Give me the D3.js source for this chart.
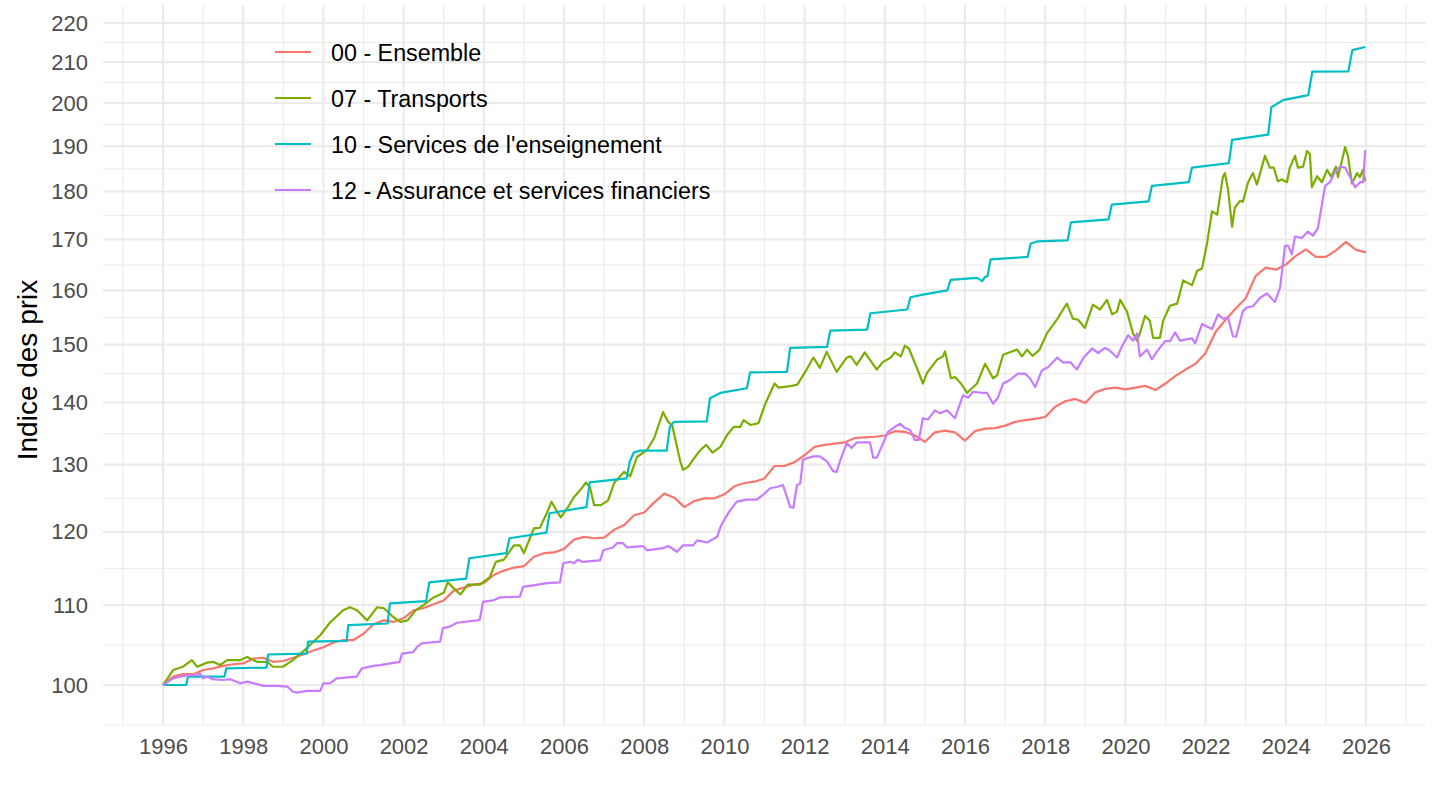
<!DOCTYPE html>
<html>
<head>
<meta charset="utf-8">
<script src="https://cdn.jsdelivr.net/npm/d3@7/dist/d3.min.js"></script>
<style>
  body { margin: 0; background: #fff; }
  text { font-family: "Liberation Sans", Arial, sans-serif; }
</style>
</head>
<body>
<script>
// Données : [année décimale, indice]
const yearTicks = [1996, 1998, 2000, 2002, 2004, 2006, 2008, 2010, 2012, 2014, 2016, 2018, 2020, 2022, 2024, 2026];
const indexTicks = [100, 110, 120, 130, 140, 150, 160, 170, 180, 190, 200, 210, 220];

const seriesNames = ["00 - Ensemble", "07 - Transports", "10 - Services de l'enseignement", "12 - Assurance et services financiers"];
const seriesColors = ["#F8766D", "#7CAE00", "#00BFC4", "#C77CFF"];

const ensemble = [[1996.0,100],[1996.25,101.0],[1996.5,101.3],[1996.75,101.3],[1997.0,101.8],[1997.25,102.0],[1997.5,102.3],[1997.75,102.5],
  [1998.0,102.6],[1998.25,103.2],[1998.5,103.3],[1998.75,102.8],[1999.0,102.9],[1999.25,103.3],[1999.5,103.7],[1999.75,104.2],
  [2000.0,104.6],[2000.25,105.2],[2000.5,105.5],[2000.75,105.5],[2001.0,106.3],[2001.25,107.5],[2001.5,108.0],[2001.75,107.8],
  [2002.0,108.3],[2002.25,109.3],[2002.5,109.6],[2002.75,110.1],[2003.0,110.6],[2003.25,111.9],[2003.5,112.3],[2003.75,112.7],
  [2004.0,112.9],[2004.25,114.0],[2004.5,114.6],[2004.75,115.0],[2005.0,115.2],[2005.25,116.5],[2005.5,117.0],[2005.75,117.1],
  [2006.0,117.6],[2006.25,118.9],[2006.5,119.3],[2006.75,119.1],[2007.0,119.2],[2007.25,120.3],[2007.5,121.0],[2007.75,122.4],
  [2008.0,122.8],[2008.25,124.3],[2008.5,125.6],[2008.75,125.0],[2009.0,123.6],[2009.25,124.5],[2009.5,124.9],[2009.75,124.9],
  [2010.0,125.5],[2010.25,126.7],[2010.5,127.2],[2010.75,127.4],[2011.0,127.9],[2011.25,129.8],[2011.5,129.8],[2011.75,130.4],
  [2012.0,131.5],[2012.25,132.8],[2012.5,133.1],[2012.75,133.3],[2013.0,133.5],[2013.25,134.2],[2013.5,134.3],[2013.75,134.4],
  [2014.0,134.6],[2014.25,135.3],[2014.5,135.2],[2014.75,134.6],[2015.0,133.6],[2015.25,135.1],[2015.5,135.4],[2015.75,135.1],
  [2016.0,133.8],[2016.25,135.3],[2016.5,135.7],[2016.75,135.8],[2017.0,136.2],[2017.25,136.8],[2017.5,137.1],[2017.75,137.3],
  [2018.0,137.6],[2018.25,139.3],[2018.5,140.2],[2018.75,140.6],[2019.0,139.9],[2019.25,141.7],[2019.5,142.3],[2019.75,142.5],
  [2020.0,142.2],[2020.25,142.5],[2020.5,142.8],[2020.75,142.1],[2021.0,143.2],[2021.25,144.5],[2021.5,145.6],[2021.75,146.6],
  [2022.0,148.5],[2022.25,152.3],[2022.5,154.5],[2022.75,156.6],[2023.0,158.5],[2023.25,162.8],[2023.5,164.4],[2023.75,164.0],
  [2024.0,165.0],[2024.25,166.7],[2024.5,168.0],[2024.75,166.5],[2025.0,166.5],[2025.25,167.8],[2025.5,169.5],[2025.75,167.9],
  [2026.0,167.4]];

const transports = [[1996.0,100],[1996.25,101.8],[1996.5,102.2],[1996.72,103.0],[1996.85,102.2],[1997.1,102.7],[1997.25,102.8],
  [1997.42,102.4],[1997.6,103.0],[1997.92,103.0],[1998.1,103.4],[1998.34,102.8],[1998.6,102.8],[1998.74,102.2],[1998.99,102.2],
  [1999.24,103.0],[1999.59,104.5],[1999.92,106.1],[2000.16,107.7],[2000.49,109.3],[2000.66,109.7],[2000.84,109.3],[2001.09,108.0],
  [2001.34,109.7],[2001.5,109.6],[2001.75,108.4],[2001.92,107.8],[2002.1,108.0],[2002.3,109.3],[2002.5,110.0],[2002.75,111.0],
  [2003.0,111.6],[2003.1,113.0],[2003.35,111.7],[2003.42,111.4],[2003.6,112.7],[2003.9,112.7],[2004.15,113.7],[2004.3,115.8],
  [2004.5,116.1],[2004.75,118.1],[2004.9,118.1],[2005.0,117.0],[2005.15,119.1],[2005.25,120.5],[2005.4,120.6],[2005.6,123.1],
  [2005.69,124.4],[2005.85,122.7],[2005.92,122.1],[2006.1,123.6],[2006.25,125.1],[2006.4,126.1],[2006.55,127.3],[2006.65,126.5],
  [2006.75,123.9],[2006.92,123.9],[2007.1,124.6],[2007.25,127.2],[2007.5,128.9],[2007.65,128.2],[2007.82,131.2],[2008.07,132.3],
  [2008.25,134.2],[2008.47,138.4],[2008.6,136.8],[2008.7,136.2],[2008.9,130.5],[2008.97,129.2],[2009.1,129.7],[2009.22,130.8],
  [2009.4,132.3],[2009.55,133.1],[2009.7,131.9],[2009.9,132.8],[2010.06,134.6],[2010.23,136.0],[2010.4,136.0],[2010.48,137.1],
  [2010.65,136.3],[2010.85,136.6],[2011.02,139.8],[2011.25,143.2],[2011.35,142.5],[2011.6,142.7],[2011.82,143.0],[2012.05,145.6],
  [2012.22,147.7],[2012.38,145.9],[2012.55,148.7],[2012.8,145.2],[2013.05,147.7],[2013.15,147.9],[2013.3,146.4],[2013.5,148.6],
  [2013.8,145.6],[2013.95,146.9],[2014.15,147.7],[2014.25,148.6],[2014.4,147.9],[2014.5,149.8],[2014.6,149.3],[2014.8,145.9],
  [2014.95,143.2],[2015.05,145.0],[2015.3,147.3],[2015.45,147.9],[2015.5,148.8],[2015.65,144.1],[2015.75,144.3],[2015.9,143.2],
  [2016.05,141.6],[2016.3,143.2],[2016.5,146.6],[2016.7,144.1],[2016.8,144.6],[2016.95,148.2],[2017.1,148.6],[2017.3,149.1],
  [2017.42,147.9],[2017.55,149.1],[2017.68,148.0],[2017.85,149.0],[2018.05,152.1],[2018.3,154.6],[2018.37,155.5],[2018.54,157.5],
  [2018.69,154.7],[2018.82,154.5],[2018.99,153.0],[2019.19,157.3],[2019.37,156.4],[2019.54,158.2],[2019.67,155.5],[2019.79,156.0],
  [2019.87,158.2],[2020.04,156.0],[2020.19,152.0],[2020.29,150.7],[2020.36,152.0],[2020.49,155.2],[2020.61,154.3],[2020.69,151.2],
  [2020.86,151.2],[2020.94,154.3],[2021.11,157.1],[2021.29,157.5],[2021.44,161.9],[2021.66,161.0],[2021.79,163.8],[2021.91,164.2],
  [2022.04,169.4],[2022.16,175.8],[2022.29,175.1],[2022.43,183.1],[2022.48,184.0],[2022.56,180.4],[2022.66,172.6],[2022.73,176.6],
  [2022.86,178.0],[2022.93,177.8],[2023.06,182.0],[2023.18,184.0],[2023.28,181.5],[2023.48,187.8],[2023.6,185.2],[2023.7,185.2],
  [2023.8,182.2],[2023.9,182.6],[2024.03,182.0],[2024.1,185.2],[2024.23,187.8],[2024.3,185.2],[2024.43,185.4],[2024.53,188.9],
  [2024.6,188.2],[2024.65,180.9],[2024.78,183.3],[2024.9,182.0],[2025.03,184.7],[2025.13,183.2],[2025.25,185.4],[2025.3,183.1],
  [2025.48,189.8],[2025.55,187.8],[2025.65,181.7],[2025.78,184.0],[2025.85,183.1],[2025.92,184.7],[2025.98,182.2]];

const enseignement = [[1996.0,100],[1996.58,100],[1996.62,101.0],[1997.53,101.0],[1997.58,102.0],[1998.58,102.1],[1998.62,103.7],
  [1999.58,103.8],[1999.62,105.3],[2000.58,105.4],[2000.62,107.4],[2001.6,107.6],[2001.66,110.2],[2002.56,110.5],[2002.64,113.0],
  [2003.56,113.5],[2003.64,116.3],[2004.56,117.0],[2004.64,119.1],[2005.56,119.9],[2005.64,122.7],[2006.56,123.6],[2006.64,127.3],
  [2007.56,127.9],[2007.64,130.5],[2007.74,131.9],[2007.9,132.2],[2008.56,132.2],[2008.64,136.0],[2008.74,136.8],[2009.56,136.9],
  [2009.64,140.7],[2009.9,141.6],[2010.56,142.4],[2010.64,145.1],[2011.56,145.2],[2011.64,149.4],[2012.56,149.6],[2012.64,152.5],
  [2013.56,152.7],[2013.64,155.7],[2014.56,156.4],[2014.64,158.7],[2014.95,159.2],[2015.56,160.0],[2015.64,162.0],[2016.3,162.4],
  [2016.43,161.8],[2016.5,162.6],[2016.56,162.7],[2016.64,166.0],[2017.56,166.5],[2017.64,169.2],[2017.8,169.6],[2018.56,169.8],
  [2018.64,173.5],[2019.58,174.1],[2019.66,177.2],[2020.58,177.9],[2020.66,181.2],[2021.58,182.0],[2021.66,185.2],[2022.58,186.2],
  [2022.66,191.4],[2023.56,192.6],[2023.64,199.0],[2023.93,200.7],[2024.56,201.9],[2024.66,207.6],[2025.56,207.7],[2025.66,213.0],
  [2025.98,213.8]];

const assurance = [[1996.0,100],[1996.25,100.8],[1996.5,101.1],[1996.85,101.2],[1996.92,101.4],[1997.0,100.8],[1997.1,101.0],
  [1997.22,100.7],[1997.5,100.6],[1997.68,100.7],[1997.92,100.2],[1998.1,100.4],[1998.34,100.1],[1998.5,99.9],[1998.84,99.9],
  [1999.1,99.8],[1999.24,99.2],[1999.34,99.1],[1999.59,99.3],[1999.92,99.3],[2000.0,100.2],[2000.16,100.2],[2000.33,100.8],
  [2000.83,101.0],[2000.96,102.0],[2001.24,102.3],[2001.41,102.4],[2001.9,102.8],[2001.96,103.8],[2002.24,104.0],[2002.33,104.6],
  [2002.46,105.1],[2002.91,105.3],[2002.98,107.0],[2003.15,107.2],[2003.33,107.7],[2003.83,108.0],[2003.9,108.1],[2003.98,110.4],
  [2004.23,110.6],[2004.4,111.0],[2004.9,111.1],[2004.98,112.4],[2005.23,112.6],[2005.58,112.9],[2005.9,113.0],[2005.98,115.6],
  [2006.15,115.8],[2006.25,115.6],[2006.35,116.1],[2006.45,115.8],[2006.9,116.0],[2006.98,117.4],[2007.22,117.8],[2007.32,118.4],
  [2007.47,118.4],[2007.57,117.8],[2007.97,118.0],[2008.07,117.4],[2008.47,117.7],[2008.6,118.0],[2008.82,117.2],[2008.97,118.1],
  [2009.22,118.1],[2009.32,118.8],[2009.57,118.5],[2009.82,119.3],[2009.9,120.7],[2010.02,122.0],[2010.15,123.2],[2010.31,124.4],
  [2010.56,124.7],[2010.81,124.7],[2010.96,125.4],[2011.14,126.4],[2011.31,126.6],[2011.46,126.9],[2011.56,125.1],[2011.64,123.6],
  [2011.72,123.5],[2011.81,126.9],[2011.89,127.1],[2011.96,130.8],[2012.21,131.3],[2012.38,131.3],[2012.56,130.5],[2012.71,129.0],
  [2012.8,128.9],[2012.88,130.5],[2013.05,133.4],[2013.17,132.6],[2013.3,133.5],[2013.63,133.5],[2013.71,131.1],[2013.8,131.1],
  [2013.96,133.4],[2014.08,135.2],[2014.25,136.0],[2014.38,136.5],[2014.5,135.8],[2014.63,135.5],[2014.75,133.9],[2014.85,133.9],
  [2014.95,137.4],[2015.08,137.2],[2015.25,138.7],[2015.38,138.2],[2015.55,138.7],[2015.75,137.4],[2015.95,141.2],[2016.08,140.8],
  [2016.2,141.8],[2016.43,141.6],[2016.55,141.6],[2016.7,139.8],[2016.82,140.8],[2016.95,143.2],[2017.12,143.8],[2017.32,144.9],
  [2017.5,144.9],[2017.62,144.1],[2017.75,142.6],[2017.92,145.5],[2018.07,146.0],[2018.3,147.7],[2018.45,146.8],[2018.62,146.9],
  [2018.79,145.6],[2018.95,147.6],[2019.17,149.3],[2019.32,148.5],[2019.49,149.4],[2019.6,149.0],[2019.79,147.7],[2019.91,149.6],
  [2020.07,151.7],[2020.19,150.7],[2020.29,152.0],[2020.36,147.9],[2020.54,149.1],[2020.66,147.4],[2020.79,148.8],[2020.99,150.6],
  [2021.11,150.6],[2021.24,152.2],[2021.36,150.7],[2021.66,151.1],[2021.74,150.2],[2021.91,153.7],[2022.16,152.8],[2022.31,155.5],
  [2022.43,154.7],[2022.56,154.9],[2022.68,151.5],[2022.76,151.4],[2022.93,156.1],[2023.03,156.8],[2023.18,157.0],[2023.36,158.6],
  [2023.53,159.4],[2023.73,157.8],[2023.86,160.6],[2023.98,168.7],[2024.06,168.7],[2024.15,167.0],[2024.23,170.6],[2024.4,170.3],
  [2024.55,171.6],[2024.68,170.8],[2024.8,172.3],[2024.98,181.2],[2025.1,182.0],[2025.23,184.3],[2025.35,185.4],[2025.48,185.2],
  [2025.6,183.2],[2025.73,180.9],[2025.85,182.0],[2025.93,182.0],[2025.98,189.1]];

const allSeries = [ensemble, transports, enseignement, assurance];

const width = 1440;
const height = 810;
const panel = { left: 103, right: 1426, top: 5, bottom: 725 };

const svg = d3.select("body")
    .append("svg")
    .attr("width", width)
    .attr("height", height);

const x = d3.scaleLinear()
    .domain([1996, 2026])
    .range([163, 1366]);

const y = d3.scaleLog()
    .domain([100, 220])
    .range([685, 23]);

// grille mineure : années impaires et milieux (en log) entre les graduations
const minorYears = d3.range(yearTicks[0] - 1, yearTicks[yearTicks.length - 1] + 2, 2);
const step = indexTicks[1] / indexTicks[0];
const minorIdx = [indexTicks[0] / Math.sqrt(step)]
    .concat(indexTicks.slice(1).map((v, i) => Math.sqrt(v * indexTicks[i])));

const grid = svg.append("g").attr("stroke", "#EBEBEB");

grid.selectAll(".vminor")
    .data(minorYears)
    .enter()
    .append("line")
    .attr("x1", d => x(d)).attr("x2", d => x(d))
    .attr("y1", panel.top).attr("y2", panel.bottom)
    .attr("stroke-width", 1.1);

grid.selectAll(".hminor")
    .data(minorIdx.filter(v => y(v) <= panel.bottom + 1))
    .enter()
    .append("line")
    .attr("x1", panel.left).attr("x2", panel.right)
    .attr("y1", d => y(d)).attr("y2", d => y(d))
    .attr("stroke-width", 1.1);

grid.selectAll(".vmajor")
    .data(yearTicks)
    .enter()
    .append("line")
    .attr("x1", d => x(d)).attr("x2", d => x(d))
    .attr("y1", panel.top).attr("y2", panel.bottom)
    .attr("stroke-width", 2.2);

grid.selectAll(".hmajor")
    .data(indexTicks)
    .enter()
    .append("line")
    .attr("x1", panel.left).attr("x2", panel.right)
    .attr("y1", d => y(d)).attr("y2", d => y(d))
    .attr("stroke-width", 2.2);

// axes (sans traits, seulement les libellés)
const xAxis = svg.append("g")
    .attr("transform", "translate(0," + panel.bottom + ")")
    .call(d3.axisBottom(x).tickValues(yearTicks).tickFormat(d3.format("d")).tickSize(0).tickPadding(13));
const yAxis = svg.append("g")
    .attr("transform", "translate(" + panel.left + ",0)")
    .call(d3.axisLeft(y).tickValues(indexTicks).tickFormat(d3.format("d")).tickSize(0).tickPadding(15));

[xAxis, yAxis].forEach(a => {
    a.select(".domain").remove();
    a.selectAll("text")
        .style("font-family", "'Liberation Sans', Arial, sans-serif")
        .style("font-size", "22px")
        .attr("fill", "#4D4D4D");
});

svg.append("text")
    .attr("transform", "translate(37,370) rotate(-90)")
    .attr("text-anchor", "middle")
    .style("font-size", "28px")
    .attr("fill", "#000")
    .text("Indice des prix");

// courbes
const line = d3.line()
    .x(d => x(d[0]))
    .y(d => y(d[1]));

svg.append("g")
    .selectAll("path")
    .data(allSeries)
    .enter()
    .append("path")
    .attr("d", line)
    .attr("fill", "none")
    .attr("stroke", (d, i) => seriesColors[i])
    .attr("stroke-width", 2.2)
    .attr("stroke-linejoin", "round");

// légende
const legend = svg.append("g")
    .selectAll("g")
    .data(seriesNames)
    .enter()
    .append("g")
    .attr("transform", (d, i) => "translate(275," + (52 + i * 46) + ")");

legend.append("line")
    .attr("x1", 0).attr("x2", 36)
    .attr("stroke", (d, i) => seriesColors[i])
    .attr("stroke-width", 2.2);

legend.append("text")
    .attr("x", 56)
    .attr("y", 8.5)
    .style("font-size", "23.3px")
    .attr("fill", "#000")
    .text(d => d);
</script>
</body>
</html>
